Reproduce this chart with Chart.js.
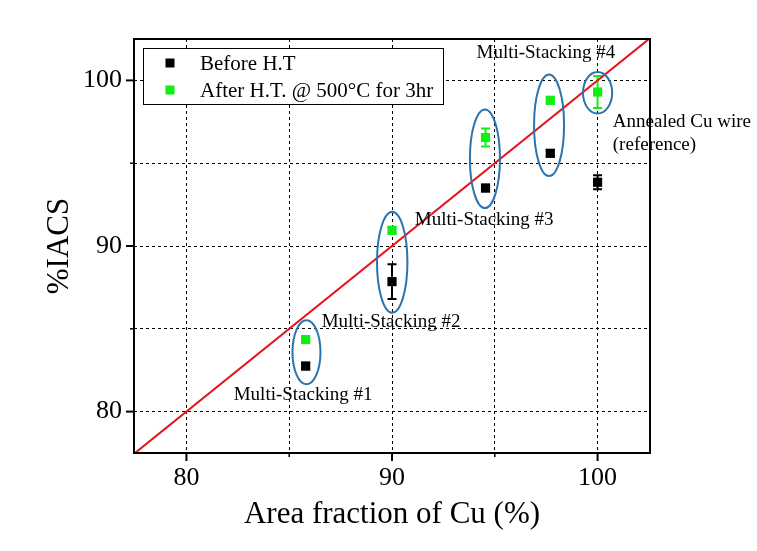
<!DOCTYPE html>
<html>
<head>
<meta charset="utf-8">
<script src="https://cdn.jsdelivr.net/npm/chart.js@4.4.1/dist/chart.umd.min.js"></script>
<style>
  html, body { margin: 0; padding: 0; background: #fff; }
  #wrap { width: 757px; height: 551px; }
</style>
</head>
<body>
<div id="wrap"><canvas id="chart" width="757" height="551"></canvas></div>
<script>
const areaFraction = [85.8, 90.0, 94.55, 97.7, 100.0];
const iacsBefore = [82.75, 87.85, 93.5, 95.6, 93.85];
const errBefore = [0.2, 1.05, 0.2, 0.2, 0.42];
const iacsAfter = [84.35, 90.95, 96.55, 98.8, 99.3];
const errAfter = [0.2, 0.2, 0.54, 0.2, 0.96];
const xTicks = [80, 85, 90, 95, 100];
const yTicks = [80, 85, 90, 95, 100];
const labelTicks = [80, 90, 100];
const refLine = [77, 103];

// rings drawn round each pair (centre, half-axes, in data units)
const ringX = [85.84, 90.01, 94.52, 97.64, 100.0];
const ringY = [83.58, 89.02, 95.27, 97.29, 99.25];
const ringRx = [0.68, 0.74, 0.73, 0.73, 0.71];
const ringRy = [1.93, 3.05, 2.98, 3.07, 1.25];

const noteText = ['Multi-Stacking #1', 'Multi-Stacking #2', 'Multi-Stacking #3', 'Multi-Stacking #4', 'Annealed Cu wire', '(reference)'];
const noteX = [82.3, 86.58, 91.11, 94.11, 100.74, 100.74];
const noteY = [80.72, 85.12, 91.27, 101.34, 97.2, 95.8];

const legendLabels = ['Before H.T', 'After H.T. @ 500\u00B0C for 3hr'];

const BLACK = '#000000';
const GREEN = '#11ee11';
const RED = '#e8141c';
const RING = '#2a74b0';
const SERIF = "'Liberation Serif', 'Times New Roman', serif";

Chart.defaults.font.family = SERIF;
Chart.defaults.color = '#000';

function pts(xs, ys) {
  return xs.map((x, i) => ({ x: x, y: ys[i] }));
}

const extras = {
  id: 'extras',
  beforeDatasetsDraw(chart) {
    const { ctx, scales: { x, y } } = chart;
    const bars = [[iacsBefore, errBefore, BLACK], [iacsAfter, errAfter, GREEN]];
    ctx.save();
    ctx.lineWidth = 2;
    bars.forEach(([vals, errs, col]) => {
      ctx.strokeStyle = col;
      vals.forEach((v, i) => {
        const px = x.getPixelForValue(areaFraction[i]);
        const top = y.getPixelForValue(v + errs[i]);
        const bot = y.getPixelForValue(v - errs[i]);
        ctx.beginPath();
        ctx.moveTo(px, top); ctx.lineTo(px, bot);
        ctx.moveTo(px - 4.5, top); ctx.lineTo(px + 4.5, top);
        ctx.moveTo(px - 4.5, bot); ctx.lineTo(px + 4.5, bot);
        ctx.stroke();
      });
    });
    ctx.restore();
  },
  afterDatasetsDraw(chart) {
    const { ctx, scales: { x, y } } = chart;
    ctx.save();
    ctx.strokeStyle = RING;
    ctx.lineWidth = 2;
    ringX.forEach((cx, i) => {
      const px = x.getPixelForValue(cx);
      const py = y.getPixelForValue(ringY[i]);
      const rx = Math.abs(x.getPixelForValue(cx + ringRx[i]) - px);
      const ry = Math.abs(y.getPixelForValue(ringY[i] + ringRy[i]) - py);
      ctx.beginPath();
      ctx.ellipse(px, py, rx, ry, 0, 0, Math.PI * 2);
      ctx.stroke();
    });

    ctx.fillStyle = '#000';
    ctx.font = '19px ' + SERIF;
    ctx.textAlign = 'left';
    ctx.textBaseline = 'alphabetic';
    noteText.forEach((t, i) => {
      ctx.fillText(t, x.getPixelForValue(noteX[i]), y.getPixelForValue(noteY[i]));
    });
    ctx.restore();
  },
  afterDraw(chart) {
    const { ctx, chartArea: a, scales: { x, y } } = chart;
    ctx.save();
    ctx.strokeStyle = '#000';
    ctx.lineWidth = 2;
    ctx.strokeRect(a.left, a.top, a.right - a.left, a.bottom - a.top);

    xTicks.forEach(v => {
      const major = labelTicks.includes(v);
      const px = x.getPixelForValue(v);
      ctx.lineWidth = major ? 2 : 1.5;
      ctx.beginPath();
      ctx.moveTo(px, a.bottom);
      ctx.lineTo(px, a.bottom + (major ? 8 : 4));
      ctx.stroke();
    });
    yTicks.forEach(v => {
      const major = labelTicks.includes(v);
      const py = y.getPixelForValue(v);
      ctx.lineWidth = major ? 2 : 1.5;
      ctx.beginPath();
      ctx.moveTo(a.left, py);
      ctx.lineTo(a.left - (major ? 8 : 4), py);
      ctx.stroke();
    });

    // legend box
    const lx = a.left + 9, ly = a.top + 9;
    ctx.fillStyle = '#fff';
    ctx.fillRect(lx, ly, 300, 56);
    ctx.lineWidth = 1;
    ctx.strokeRect(lx + 0.5, ly + 0.5, 300, 56);
    const cols = [BLACK, GREEN];
    ctx.font = '21px ' + SERIF;
    ctx.textBaseline = 'alphabetic';
    legendLabels.forEach((t, i) => {
      const my = ly + 15 + i * 27;
      ctx.fillStyle = cols[i];
      ctx.fillRect(lx + 22.5, my - 4.5, 9, 9);
      ctx.fillStyle = '#000';
      ctx.fillText(t, lx + 57, my + 7);
    });
    ctx.restore();
  }
};

new Chart(document.getElementById('chart'), {
  type: 'scatter',
  data: {
    datasets: [
      {
        type: 'line',
        label: 'y = x',
        data: pts(refLine, refLine),
        borderColor: RED,
        borderWidth: 2,
        pointRadius: 0,
        fill: false,
        clip: 0
      },
      {
        label: legendLabels[0],
        data: pts(areaFraction, iacsBefore),
        pointStyle: 'rect',
        pointRadius: 6.5,
        backgroundColor: BLACK,
        borderColor: BLACK,
        borderWidth: 0
      },
      {
        label: legendLabels[1],
        data: pts(areaFraction, iacsAfter),
        pointStyle: 'rect',
        pointRadius: 6.5,
        backgroundColor: GREEN,
        borderColor: GREEN,
        borderWidth: 0
      }
    ]
  },
  options: {
    responsive: false,
    animation: false,
    layout: { padding: { left: 0, right: 107, top: 39, bottom: 0 } },
    plugins: {
      legend: { display: false },
      tooltip: { enabled: false }
    },
    scales: {
      x: {
        type: 'linear',
        position: 'bottom',
        min: 77.45,
        max: 102.55,
        afterFit: s => { s.height = 98; },
        afterBuildTicks: s => { s.ticks = xTicks.map(v => ({ value: v })); },
        grid: { color: '#000', lineWidth: 1, drawTicks: false },
        border: { display: false, dash: [3, 3] },
        ticks: {
          padding: 10,
          autoSkip: false,
          maxRotation: 0,
          color: '#000',
          font: { size: 26 },
          callback: v => labelTicks.includes(v) ? String(v) : ''
        },
        title: {
          display: true,
          text: 'Area fraction of Cu (%)',
          color: '#000',
          font: { size: 31 },
          padding: { top: 0, bottom: 18 }
        }
      },
      y: {
        type: 'linear',
        position: 'left',
        min: 77.5,
        max: 102.5,
        afterFit: s => { s.width = 134; },
        afterBuildTicks: s => { s.ticks = yTicks.map(v => ({ value: v })); },
        grid: { color: '#000', lineWidth: 1, drawTicks: false },
        border: { display: false, dash: [3, 3] },
        ticks: {
          padding: 12,
          autoSkip: false,
          color: '#000',
          font: { size: 26 },
          callback: v => labelTicks.includes(v) ? String(v) : ''
        },
        title: {
          display: true,
          text: '%IACS',
          color: '#000',
          font: { size: 31 },
          padding: { top: 41, bottom: 0 }
        }
      }
    }
  },
  plugins: [extras]
});
</script>
</body>
</html>
